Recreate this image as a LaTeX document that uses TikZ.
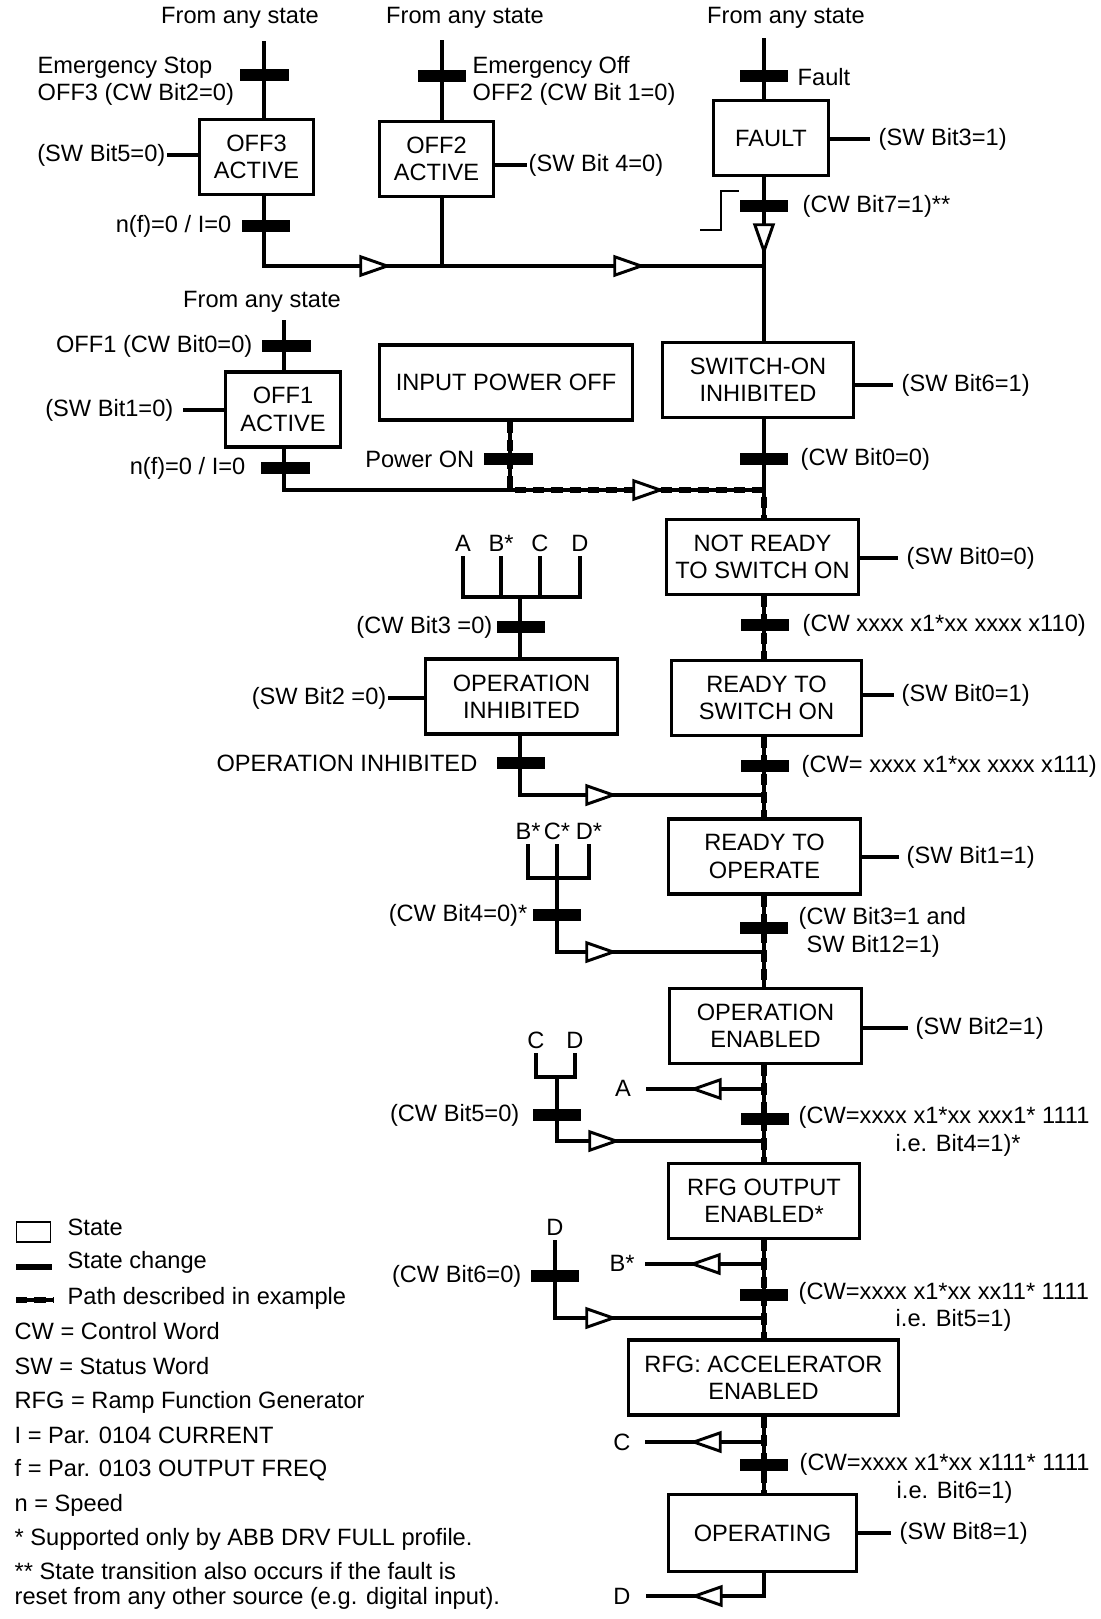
\documentclass[tikz,border=0pt]{standalone}
\usepackage{fontspec}
\setmainfont{Liberation Sans}
\usetikzlibrary{shapes.geometric}
\tikzset{
  state/.style={draw, line width=2.3pt, minimum height=1.875cm, inner sep=0pt, align=center},
  chg/.style={fill, minimum width=1.2cm, minimum height=0.28cm, inner sep=0pt},
  lbl/.style={inner sep=1pt, align=left},
  link/.style={line width=2.3pt},
  route/.style={line width=2.3pt, postaction={draw, line width=4.4pt, dash pattern=on 8pt off 5pt}},
  tri/.style={isosceles triangle, isosceles triangle stretches, draw, fill=white, line width=2.1pt,
    minimum width=0.46cm, minimum height=0.66cm, inner sep=0pt, anchor=apex},
}

\begin{document}
\begin{tikzpicture}[x=0.025cm, y=-0.025cm, font=\fontsize{16.8pt}{19.5pt}\selectfont]
  \useasboundingbox (0,0) rectangle (1100,1619);

  % Top row
  \node (any1) at (240,18) {From any state};
  \node (any2) at (465,18) {From any state};
  \node (any3) at (786,18) {From any state};

  \coordinate (off3in) at (264,41);
  \node[chg] (b-es) at (264.5,75) {};
  \node[lbl, anchor=west] (l-es) at (36,81) {Emergency Stop\\OFF3 (CW Bit2=0)};
  \node[state, minimum width=2.85cm] (off3) at (256.5,157) {OFF3\\ACTIVE};
  \node[lbl, anchor=east] (sw5) at (167,155) {(SW Bit5=0)};
  \node[chg] (b-off3) at (266,226) {};
  \node[lbl, anchor=east] (l-off3) at (233,226) {n(f)=0 / I=0};
  \coordinate (off3out) at (264,266);

  \coordinate (off2in) at (442,40);
  \node[chg] (b-eo) at (442,76) {};
  \node[lbl, anchor=west] (l-eo) at (471,81) {Emergency Off\\OFF2 (CW Bit 1=0)};
  \node[state, minimum width=2.85cm] (off2) at (436.5,159) {OFF2\\ACTIVE};
  \node[lbl, anchor=west] (sw4) at (527,165) {(SW Bit 4=0)};
  \coordinate (off2out) at (442,266);

  \coordinate (fltin) at (764,38);
  \node[chg] (b-flt) at (764,76) {};
  \node[lbl, anchor=west] (l-flt) at (796,77) {Fault};
  \node[state, minimum width=2.875cm] (fault) at (771,138) {FAULT};
  \node[lbl, anchor=west] (sw3) at (877,139) {(SW Bit3=1)};
  \node[chg] (b-rst) at (764,206) {};
  \node[lbl, anchor=west] (l-rst) at (801,206) {(CW Bit7=1)**};
  \coordinate (join1) at (764,266);

  % Second row
  \node (any4) at (262,302) {From any state};
  \coordinate (off1in) at (284,320);
  \node[chg] (b-o1) at (286.5,346) {};
  \node[lbl, anchor=east] (l-o1) at (254,346) {OFF1 (CW Bit0=0)};
  \node[state, minimum width=2.875cm] (off1) at (283,409.5) {OFF1\\ACTIVE};
  \node[lbl, anchor=east] (sw1) at (175,410) {(SW Bit1=0)};
  \node[chg] (b-off1) at (285.5,468) {};
  \node[lbl, anchor=east] (l-off1) at (247,468) {n(f)=0 / I=0};
  \coordinate (off1out) at (284,490);

  \node[state, minimum width=6.325cm] (inpow) at (506,382.5) {INPUT POWER OFF};
  \node[chg] (b-pon) at (508.5,459) {};
  \node[lbl, anchor=east] (l-pon) at (476,459) {Power ON};
  \coordinate (ponout) at (510,490);

  \node[state, minimum width=4.775cm] (swinh) at (758,380) {SWITCH-ON\\INHIBITED};
  \node[lbl, anchor=west] (sw6) at (900,385) {(SW Bit6=1)};
  \node[chg] (b-cw0) at (764,459) {};
  \node[lbl, anchor=west] (l-cw0) at (799,459) {(CW Bit0=0)};
  \coordinate (join2) at (764,490);

  % Main chain
  \node[state, minimum width=4.8cm] (notrdy) at (762.5,557) {NOT READY\\TO SWITCH ON};
  \node[lbl, anchor=west] (sw0a) at (905,558) {(SW Bit0=0)};
  \node[chg] (b-110) at (764.5,625) {};
  \node[lbl, anchor=west] (l-110) at (801,625) {(CW xxxx x1*xx xxxx x110)};
  \node[state, minimum width=4.75cm] (rdysw) at (766.5,698) {READY TO\\SWITCH ON};
  \node[lbl, anchor=west] (sw0b) at (900,695) {(SW Bit0=1)};
  \node[chg] (b-111) at (764.5,766) {};
  \node[lbl, anchor=west] (l-111) at (800,766) {(CW= xxxx x1*xx xxxx x111)};
  \node[state, minimum width=4.8cm] (rdyop) at (764.5,856.5) {READY TO\\OPERATE};
  \node[lbl, anchor=west] (sw1b) at (905,857) {(SW Bit1=1)};
  \node[chg] (b-op) at (764,928) {};
  \node[lbl, anchor=west] (l-op) at (797,932.5) {(CW Bit3=1 and\\\hphantom{(}SW Bit12=1)};
  \node[state, minimum width=4.8cm] (openab) at (765.5,1026) {OPERATION\\ENABLED};
  \node[lbl, anchor=west] (sw2b) at (914,1028) {(SW Bit2=1)};
  \node[chg] (b-acc) at (765,1119) {};
  \node[lbl, anchor=west] (l-acc) at (797,1131.5) {(CW=xxxx x1*xx xxx1* 1111\\\hspace*{69pt}i.e. Bit4=1)*};
  \node[state, minimum width=4.775cm] (rfgout) at (764,1201) {RFG OUTPUT\\ENABLED*};
  \node[chg] (b-rfg) at (764,1295) {};
  \node[lbl, anchor=west] (l-rfg) at (797,1307) {(CW=xxxx x1*xx xx11* 1111\\\hspace*{69pt}i.e. Bit5=1)};
  \node[state, minimum width=6.75cm] (rfgacc) at (763.5,1377.5) {RFG: ACCELERATOR\\ENABLED};
  \node[chg] (b-run) at (764,1465) {};
  \node[lbl, anchor=west] (l-run) at (798,1478.5) {(CW=xxxx x1*xx x111* 1111\\\hspace*{69pt}i.e. Bit6=1)};
  \node[state, minimum width=4.7cm, minimum height=1.925cm] (oper) at (762.5,1533) {OPERATING};
  \node[lbl, anchor=west] (sw8) at (898,1533) {(SW Bit8=1)};

  % Operation inhibited branch
  \node (tA1) at (463,543) {A};
  \node (tB1) at (501,543) {B*};
  \node (tC1) at (540,543) {C};
  \node (tD1) at (580,543) {D};
  \coordinate (fork1) at (520,597);
  \node[chg] (b-cw3) at (521,627) {};
  \node[lbl, anchor=east] (l-cw3) at (494,627) {(CW Bit3 =0)};
  \node[state, minimum width=4.8cm] (opinh) at (521.5,696.5) {OPERATION\\INHIBITED};
  \node[lbl, anchor=east] (sw2a) at (388,698) {(SW Bit2 =0)};
  \node[chg] (b-oi) at (521,763) {};
  \node[lbl, anchor=east] (l-oi) at (479,763) {OPERATION INHIBITED};
  \coordinate (join3) at (764,795);

  % Return branches
  \node (tB2) at (528,831) {B*};
  \node (tC2) at (557,831) {C*};
  \node (tD2) at (589,831) {D*};
  \coordinate (fork2) at (557,878);
  \node[chg] (b-cw4) at (557,915) {};
  \node[lbl, anchor=east] (l-cw4) at (529,915) {(CW Bit4=0)*};
  \coordinate (join4) at (764,952);

  \node (tC3) at (536,1040) {C};
  \node (tD3) at (575,1040) {D};
  \coordinate (fork3) at (557,1077);
  \node[chg] (b-cw5) at (557,1115) {};
  \node[lbl, anchor=east] (l-cw5) at (521,1115) {(CW Bit5=0)};
  \coordinate (join5) at (764,1141);

  \node (tD4) at (555,1227) {D};
  \node[chg] (b-cw6) at (555,1276) {};
  \node[lbl, anchor=east] (l-cw6) at (523,1276) {(CW Bit6=0)};
  \coordinate (join6) at (764,1318);

  \node (tA) at (623,1088) {A};
  \coordinate (brA) at (764,1089);
  \coordinate (endA) at (646,1089);
  \node (tB) at (622,1263) {B*};
  \coordinate (brB) at (764,1264);
  \coordinate (endB) at (645,1264);
  \node (tC) at (622,1442) {C};
  \coordinate (brC) at (764,1442);
  \coordinate (endC) at (645,1442);
  \node (tD) at (622,1596) {D};
  \coordinate (endD) at (646,1596);

  % Connectors
  \draw[link] (off3in) -- (off3in |- off3.north);
  \draw[link] (off3in |- off3.south) -- (off3out) -- (join1);
  \draw[link] (sw5.east) -- (sw5.east -| off3.west);
  \draw[link] (off2in) -- (off2in |- off2.north);
  \draw[link] (off2in |- off2.south) -- (off2out);
  \draw[link] (sw4.west -| off2.east) -- (sw4.west);
  \draw[link] (fltin) -- (fltin |- fault.north);
  \draw[link] (fltin |- fault.south) -- (join1) -- (join1 |- swinh.north);
  \draw[link] (sw3.west -| fault.east) -- ([xshift=-5pt]sw3.west);
  \draw[line width=1.6pt] (700,230) -- (721,230) -- (721,191) -- (739,191);

  \draw[link] (off1in) -- (off1in |- off1.north);
  \draw[link] (off1in |- off1.south) -- (off1out) -- (ponout);
  \draw[link] ([xshift=6pt]sw1.east) -- (sw1.east -| off1.west);
  \draw[link] (join2 |- swinh.south) -- (join2);
  \draw[link] (sw6.west -| swinh.east) -- ([xshift=-5pt]sw6.west);
  \draw[route] (ponout |- inpow.south) -- (ponout) -- (join2) -- (join2 |- notrdy.north);

  \draw[route] (join2 |- notrdy.south) -- (join2 |- rdysw.north);
  \draw[route] (join2 |- rdysw.south) -- (join2 |- rdyop.north);
  \draw[route] (join2 |- rdyop.south) -- (join2 |- openab.north);
  \draw[route] (join2 |- openab.south) -- (join2 |- rfgout.north);
  \draw[route] (join2 |- rfgout.south) -- (join2 |- rfgacc.north);
  \draw[route] (join2 |- rfgacc.south) -- (join2 |- oper.north);
  \draw[link] (join2 |- oper.south) |- (endD);

  \draw[link] (sw0a.west -| notrdy.east) -- ([xshift=-5pt]sw0a.west);
  \draw[link] (sw0b.west -| rdysw.east) -- ([xshift=-4pt]sw0b.west);
  \draw[link] (sw1b.west -| rdyop.east) -- ([xshift=-4pt]sw1b.west);
  \draw[link] (sw2b.west -| openab.east) -- ([xshift=-4pt]sw2b.west);
  \draw[link] (sw8.west -| oper.east) -- ([xshift=-5pt]sw8.west);

  \draw[link] (tA1.south) |- (fork1) -| (tD1.south);
  \draw[link] (tB1.south) -- (tB1.south |- fork1);
  \draw[link] (tC1.south) -- (tC1.south |- fork1);
  \draw[link] (fork1) -- (fork1 |- opinh.north);
  \draw[link] (sw2a.east) -- (sw2a.east -| opinh.west);
  \draw[link] (fork1 |- opinh.south) |- (join3);

  \draw[link] (tB2.south) |- (fork2) -| (tD2.south);
  \draw[link] (tC2.south) -- (fork2) |- (join4);
  \draw[link] (tC3.south) |- (fork3) -| (tD3.south);
  \draw[link] (fork3) |- (join5);
  \draw[link] (tD4.south) |- (join6);

  \draw[link] (brA) -- (endA);
  \draw[link] (brB) -- (endB);
  \draw[link] (brC) -- (endC);

  % Open arrowheads
  \node[tri] (t1) at (391,266) {};
  \node[tri] (t2) at (645,266) {};
  \node[tri, rotate=-90] (t-flt) at (764,255) {};
  \node[tri] (t3) at (664,490) {};
  \node[tri] (t4) at (617,795) {};
  \node[tri] (t5) at (617,952) {};
  \node[tri, rotate=180] (t6) at (690,1089) {};
  \node[tri] (t7) at (620,1141) {};
  \node[tri, rotate=180] (t8) at (689,1264) {};
  \node[tri] (t9) at (617,1318) {};
  \node[tri, rotate=180] (t10) at (690,1442) {};
  \node[tri, rotate=180] (t11) at (691,1596) {};

  % Legend
  \node[draw, line width=1.4pt, minimum width=0.85cm, minimum height=0.48cm, inner sep=0pt] (lg-box) at (33.5,1232) {};
  \node[chg, minimum width=0.9cm, minimum height=0.17cm] (lg-bar) at (34,1267) {};
  \draw[route] (16,1300) -- (53,1300);
  \node[lbl, anchor=west] (lg1) at (66,1227) {State};
  \node[lbl, anchor=west] (lg2) at (66,1262) {State change};
  \node[lbl, anchor=west] (lg3) at (66,1298) {Path described in example};
  \node[lbl, anchor=west] (lg4) at (13,1331) {CW = Control Word};
  \node[lbl, anchor=west] (lg5) at (13,1366) {SW = Status Word};
  \node[lbl, anchor=west] (lg6) at (13,1402) {RFG = Ramp Function Generator};
  \node[lbl, anchor=west] (lg7) at (13,1435) {I = Par. 0104 CURRENT};
  \node[lbl, anchor=west] (lg8) at (13,1470) {f = Par. 0103 OUTPUT FREQ};
  \node[lbl, anchor=west] (lg9) at (13,1505) {n = Speed};
  \node[lbl, anchor=west] (lg10) at (13,1539) {* Supported only by ABB DRV FULL profile.};
  \node[lbl, anchor=west] (lg11) at (13,1585.5) {** State transition also occurs if the fault is\\[-1.7pt]reset from any other source (e.g. digital input).};
\end{tikzpicture}
\end{document}
